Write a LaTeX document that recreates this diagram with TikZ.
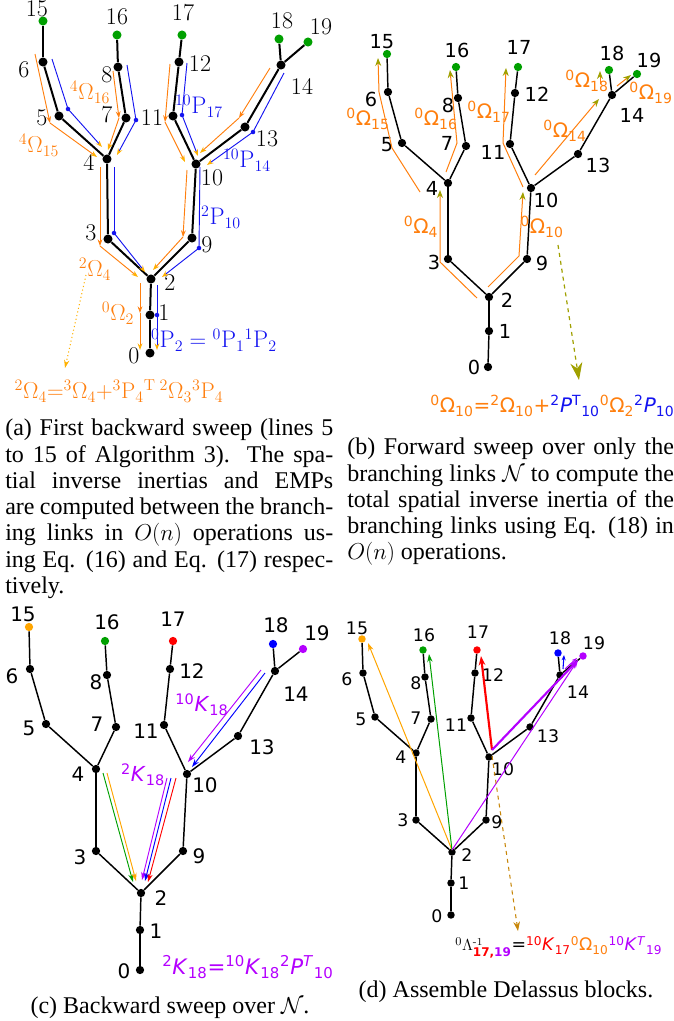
\documentclass[tikz,border=0pt]{standalone}
\usepackage{fontspec}
\usepackage{graphicx}
\usetikzlibrary{arrows.meta,calc}
\newfontfamily\dvs{DejaVu Sans}
\newfontfamily\tms{Liberation Serif}
\definecolor{orA}{RGB}{255,127,14}
\definecolor{amb}{RGB}{255,176,0}
\definecolor{blA}{RGB}{20,20,240}
\definecolor{grA}{RGB}{0,160,0}
\definecolor{olv}{RGB}{160,160,0}
\definecolor{prp}{RGB}{180,0,255}
\definecolor{rdA}{RGB}{255,0,0}
\definecolor{bluP}{RGB}{0,0,255}
\definecolor{gld}{RGB}{200,135,10}
\definecolor{orL}{RGB}{255,165,0}
\newcommand\Sp[1]{\textsuperscript{#1}}
\newcommand\Sb[1]{\textsubscript{#1}}
\newcommand\capline[1]{\hbox to 246pt{#1}}
\newcommand\caplineb[1]{\hbox to 245pt{#1}}
\pgfdeclarelayer{bg}\pgfsetlayers{bg,main}
\tikzset{
  dotA/.style={circle,fill=black,inner sep=0pt,minimum size=6.8pt},
  dotB/.style={circle,fill=black,inner sep=0pt,minimum size=6.2pt},
  dotD/.style={circle,fill=black,inner sep=0pt,minimum size=5.6pt},
  numA/.style={inner sep=0pt,font=\fontsize{18}{18}\selectfont},
  numB/.style={inner sep=0pt,font=\dvs\fontsize{14.5}{14.5}\selectfont},
  numC/.style={inner sep=0pt,font=\dvs\fontsize{15}{15}\selectfont},
  numD/.style={inner sep=0pt,font=\dvs\fontsize{13}{13}\selectfont},
  labA/.style={inner sep=0pt,font=\fontsize{18}{18}\selectfont},
  labB/.style={inner sep=0pt,font=\dvs\fontsize{15}{15}\selectfont},
  capt/.style={inner sep=0pt,font=\tms\fontsize{18}{19.7}\selectfont},
  tip/.style={-{Stealth[length=5pt,width=3.6pt]}},
  oa/.style={orA,line width=0.7pt,tip},
  oe/.style={orA,line width=0.7pt,-{Stealth[length=5pt,width=3.6pt,color=amb]}},
  ba/.style={blA,line width=0.7pt},
  be/.style={blA,line width=0.7pt,-{Stealth[length=5pt,width=3.6pt,color=amb]}},
  fb/.style={orA,line width=0.75pt,-{Stealth[length=6pt,width=4.5pt,color=olv]}},
  ca/.style={line width=0.7pt,-{Stealth[length=6pt,width=4pt]}},
  da/.style={line width=0.75pt,-{Stealth[length=6pt,width=4pt]}},
  dk/.style={line width=1.6pt,-{Stealth[length=7pt,width=5pt]}},
}
\begin{document}
\begin{tikzpicture}[x=0.75pt,y=-0.75pt]
\useasboundingbox (0,0) rectangle (674,1021);

% ================= panel (a) =================
\foreach \n/\x/\y/\dx/\dy/\c in {0/150/353/-16/3/black, 1/150/315/14/-2/black, 2/151/279/19/4/black, 3/108/239/-17/-6/black, 4/107/159/-18/3/black, 5/59/116/-17/2/black, 6/43/62/-19/8/black, 7/126/118/-19/-3/black, 8/118/67/-11/8/black, 9/192/238/15/7/black, 10/196/164/16/14/black, 11/173/116/-21/2/black, 12/179/62/21/2/black, 13/245/127/22/12/black, 14/281/65/21/21/black, 15/43/21/-6/-12/grA, 16/117/35/0/-18/grA, 17/182/35/1/-22/grA, 18/279/39/3/-18/grA, 19/308/42/13/-15/grA}
{\node[dotA,fill=\c] (a\n) at (\x,\y) {};
 \node[numA] (la\n) at (\x+\dx,\y+\dy) {\n};}

% ================= panel (b) =================
\foreach \n/\x/\y/\dx/\dy/\c in {0/488/367/-14/0/black, 1/489/331/16/0/black, 2/489/297/18/3/black, 3/448/259/-14/3/black, 4/448/183/-16/5/black, 5/402/143/-15/2/black, 6/388/92/-17/7/black, 7/466/146/-19/-3/black, 8/458/98/-10/7/black, 9/527/259/15/4/black, 10/531/188/15/12/black, 11/510/144/-17/8/black, 12/515/93/22/1/black, 13/578/154/20/11/black, 14/612/95/20/20/black, 15/387/54/-5/-12/grA, 16/456/67/1/-17/grA, 17/518/67/1/-20/grA, 18/609/70/3/-17/grA, 19/637/74/12/-14/grA}
{\node[dotB,fill=\c] (b\n) at (\x,\y) {};
 \node[numB] (lb\n) at (\x+\dx,\y+\dy) {\n};}

% ================= panel (c) =================
\foreach \n/\x/\y/\dx/\dy/\c in {0/140/970/-16/1/black, 1/140/930/16/1/black, 2/141/893/20/5/black, 3/96/851/-16/6/black, 4/96/769/-18/5/black, 5/46/724/-17/4/black, 6/30/669/-18/7/black, 7/116/727/-19/-3/black, 8/107/675/-11/7/black, 9/183/851/16/5/black, 10/187/774/18/11/black, 11/164/725/-18/6/black, 12/170/669/22/2/black, 13/238/736/24/11/black, 14/275/671/21/23/black, 15/29/627/-6/-13/orL, 16/105/641/2/-19/grA, 17/173/641/0/-22/rdA, 18/273/644/3/-19/bluP, 19/303/649/14/-16/prp}
{\node[dotB,fill=\c] (c\n) at (\x,\y) {};
 \node[numC] (lc\n) at (\x+\dx,\y+\dy) {\n};}

% ================= panel (d) =================
\foreach \n/\x/\y/\dx/\dy/\c in {0/451/915/-14/1/black, 1/451/883/13/0/black, 2/452/852/15/3/black, 3/416/820/-13/0/black, 4/416/753/-15/4/black, 5/375/717/-14/2/black, 6/363/673/-16/6/black, 7/431/719/-15/-1/black, 8/425/677/-9/6/black, 9/486/820/11/2/black, 10/489/757/14/12/black, 11/471/718/-15/7/black, 12/475/673/18/2/black, 13/530/727/18/9/black, 14/560/675/18/17/black, 15/362/639/-5/-11/orL, 16/423/650/1/-15/grA, 17/477/650/1/-18/rdA, 18/558/653/2/-15/bluP, 19/583/656/11/-13/prp}
{\node[dotD,fill=\c] (d\n) at (\x,\y) {};
 \node[numD] (ld\n) at (\x+\dx,\y+\dy) {\n};}

% ================= tree edges =================
\begin{pgfonlayer}{bg}
\foreach \p/\w in {a/1.5pt,b/1.1pt,c/1.1pt,d/1.1pt}
  \foreach \u/\v in {0/1,1/2,2/3,3/4,4/5,5/6,6/15,4/7,7/8,8/16,2/9,9/10,10/11,11/12,12/17,10/13,13/14,14/18,14/19}
    \draw[line width=\w] (\p\u) -- (\p\v);
\end{pgfonlayer}

% ================= annotations (a) =================
\draw[oa] (35,54) -- (50,123);  \draw[oe] (50,123) -- (97,157);
\draw[ba] (52,59) -- (68,109);  \draw[be] (68,109) -- (102,147);
\draw[oa] (113,71) -- (119,118); \draw[oe] (119,118) -- (108,150);
\draw[ba] (127,65) -- (136,120); \draw[be] (136,120) -- (117,155);
\draw[oa] (170,64) -- (165,122); \draw[oe] (165,122) -- (185,162);
\draw[ba] (187,63) -- (182,115); \draw[be] (182,115) -- (198,156);
\draw[oa] (270,68) -- (239,118); \draw[oe] (239,118) -- (200,153);
\draw[ba] (284,73) -- (253,132); \draw[be] (253,132) -- (207,165);
\draw[oa] (100,167) -- (100,246); \draw[oe] (100,246) -- (138,277);
\draw[ba] (114,167) -- (114,233); \draw[be] (114,233) -- (145,272);
\draw[oa] (187,170) -- (183,237); \draw[oe] (183,237) -- (153,270);
\draw[ba] (200,167) -- (199,248); \draw[be] (199,248) -- (162,277);
\draw[oa] (140,283) -- (140,313); \draw[oe] (140,313) -- (140,350);
\draw[ba] (157,285) -- (157,315); \draw[be] (157,315) -- (157,350);
\foreach \x/\y in {68/109,136/120,182/115,253/132,114/233,199/248,157/315}
  \fill[blA] (\x,\y) circle (1.7pt);
\draw[amb,line width=0.8pt,dotted,-{Stealth[length=6pt,width=4pt]}] (86,275) -- (65,368);

\node[labA,text=orA] (o415) at (39,145) {$^{4}\Omega_{15}$};
\node[labA,text=orA] (o416) at (90,92) {$^{4}\Omega_{16}$};
\node[labA,text=blA] (p1017) at (199,106) {$^{10}\mathrm{P}_{17}$};
\node[labA,text=blA] (p1014) at (247,160) {$^{10}\mathrm{P}_{14}$};
\node[labA,text=blA] (p210) at (221,217) {$^{2}\mathrm{P}_{10}$};
\node[labA,text=orA] (o24) at (95,269) {$^{2}\Omega_{4}$};
\node[labA,text=orA] (o02) at (118,313) {$^{0}\Omega_{2}$};
\node[labA,text=blA] (p02) at (214,340) {$^{0}\mathrm{P}_{2} = {}^{0}\mathrm{P}_{1}{}^{1}\mathrm{P}_{2}$};
\node[inner sep=0pt,font=\fontsize{17}{17}\selectfont,text=orA] (fa) at (119,391) {$^{2}\Omega_{4}{=}{}^{3}\Omega_{4}{+}{}^{3}\mathrm{P}_{4}{}^{\mathrm{T}}\,{}^{2}\Omega_{3}{}^{3}\mathrm{P}_{4}$};

% ================= annotations (b) =================
\draw[fb] (420,192) -- (392,148) -- (379,92) -- (378,58);
\draw[fb] (446,172) -- (457,143) -- (450,70);
\draw[fb] (523,187) -- (503,143) -- (506,68);
\draw[fb] (535,175) -- (599,99);
\draw[fb] (600,84) -- (600,71);
\draw[fb] (617,86) -- (631,75);
\draw[fb] (477,298) -- (440,262) -- (440,190);
\draw[fb] (488,287) -- (519,256) -- (523,192);
\draw[olv,line width=0.9pt,dashed,-{Stealth[length=13pt,width=9pt]}] (558,245) -- (579,380);

\node[labB,text=orA] (b015) at (368,119) {\Sp{0}Ω\Sb{15}};
\node[labB,text=orA] (b016) at (436,119) {\Sp{0}Ω\Sb{16}};
\node[labB,text=orA] (b017) at (489,112) {\Sp{0}Ω\Sb{17}};
\node[labB,text=orA] (b014) at (565,131) {\Sp{0}Ω\Sb{14}};
\node[labB,text=orA] (b018) at (587,81) {\Sp{0}Ω\Sb{18}};
\node[labB,text=orA] (b019) at (651,93) {\Sp{0}Ω\Sb{19}};
\node[labB,text=orA] (b04) at (421,227) {\Sp{0}Ω\Sb{4}};
\node[labB,text=orA] (b010) at (542,227) {\Sp{0}Ω\Sb{10}};
\node[anchor=west,inner sep=0pt,font=\dvs\fontsize{15}{15}\selectfont] (fb) at (430,406)
 {\textcolor{orA}{\Sp{0}Ω\Sb{10}=\Sp{2}Ω\Sb{10}+}\textcolor{blA}{\Sp{2}\textit{P}\Sp{T}\Sb{10}}\textcolor{orA}{\Sp{0}Ω\Sb{2}}\textcolor{blA}{\Sp{2}\textit{P}\Sb{10}}};

% ================= annotations (c) =================
\draw[ca,prp] (261,670) -- (188,762);
\draw[ca,bluP] (265,673) -- (192,767);
\draw[ca,grA] (103,773) -- (133,882);
\draw[ca,orL] (107,773) -- (136,881);
\draw[ca,prp] (167,778) -- (142,880);
\draw[ca,bluP] (171,778) -- (145,881);
\draw[ca,rdA] (176,778) -- (148,882);
\node[inner sep=0pt,font=\dvs\fontsize{15.5}{15.5}\selectfont,text=prp] (k1018) at (202,705) {\Sp{10}\textit{K}\Sb{18}};
\node[inner sep=0pt,font=\dvs\fontsize{15.5}{15.5}\selectfont,text=prp] (k218) at (143,775) {\Sp{2}\textit{K}\Sb{18}};
\node[anchor=west,inner sep=0pt,font=\dvs\fontsize{16}{16}\selectfont,text=prp] (fc) at (162,967)
 {\Sp{2}\textit{K}\Sb{18}=\Sp{10}\textit{K}\Sb{18}\Sp{2}\textit{P}\Sp{\textit{T}}\Sb{10}};

% ================= annotations (d) =================
\draw[da,orL] (452,850) -- (368,643);
\draw[da,grA] (452,850) -- (429,654);
\draw[da,prp] (452,850) -- (578,660);
\draw[dk,rdA] (492,750) -- (481,656);
\draw[dk,prp] (492,750) -- (578,660);
\draw[line width=0.8pt,bluP,-{Stealth[length=4pt,width=3pt]}] (563,669) -- (564,655);
\draw[line width=0.8pt,prp,-{Stealth[length=4pt,width=3pt]}] (565,669) -- (577,658);
\draw[gld,line width=0.8pt,dashed,-{Stealth[length=7pt,width=5pt]}] (492,756) -- (518,931);
\node[anchor=west,inner sep=0pt,font=\dvs\fontsize{13}{13}\selectfont] (fd) at (455,947)
 {$^{0}\Lambda^{\mbox{\rmfamily\fontsize{8}{8}\selectfont -1}}_{\mbox{\dvs\bfseries\fontsize{9}{9}\selectfont\color{rdA}17,\color{prp}19}}$=\textcolor{rdA}{\Sp{10}\textit{K}\Sb{17}}\textcolor{orA}{\Sp{0}Ω\Sb{10}}\textcolor{prp}{\Sp{10}\textit{K}\Sp{\textit{T}}\Sb{19}}};

% ================= captions =================
\node[capt,anchor=north west] (capa) at (5,419) {\vbox{%
\capline{(a) First backward sweep (lines 5}
\capline{to 15 of Algorithm 3). The spa-}
\capline{tial inverse inertias and EMPs}
\capline{are computed between the branch-}
\capline{ing links in $O(n)$ operations us-}
\capline{ing Eq. (16) and Eq. (17) respec-}
\hbox{tively.}}};
\node[capt,anchor=north west] (capb) at (347,438) {\vbox{%
\caplineb{(b) Forward sweep over only the}
\caplineb{branching links $\mathcal{N}$ to compute the}
\caplineb{total spatial inverse inertia of the}
\caplineb{branching links using Eq. (18) in}
\hbox{$O(n)$ operations.}}};
\node[capt,anchor=base] (capc) at (170,1013) {(c) Backward sweep over $\mathcal{N}$.};
\node[capt,anchor=base] (capd) at (506,997) {(d) Assemble Delassus blocks.};
\end{tikzpicture}
\end{document}
